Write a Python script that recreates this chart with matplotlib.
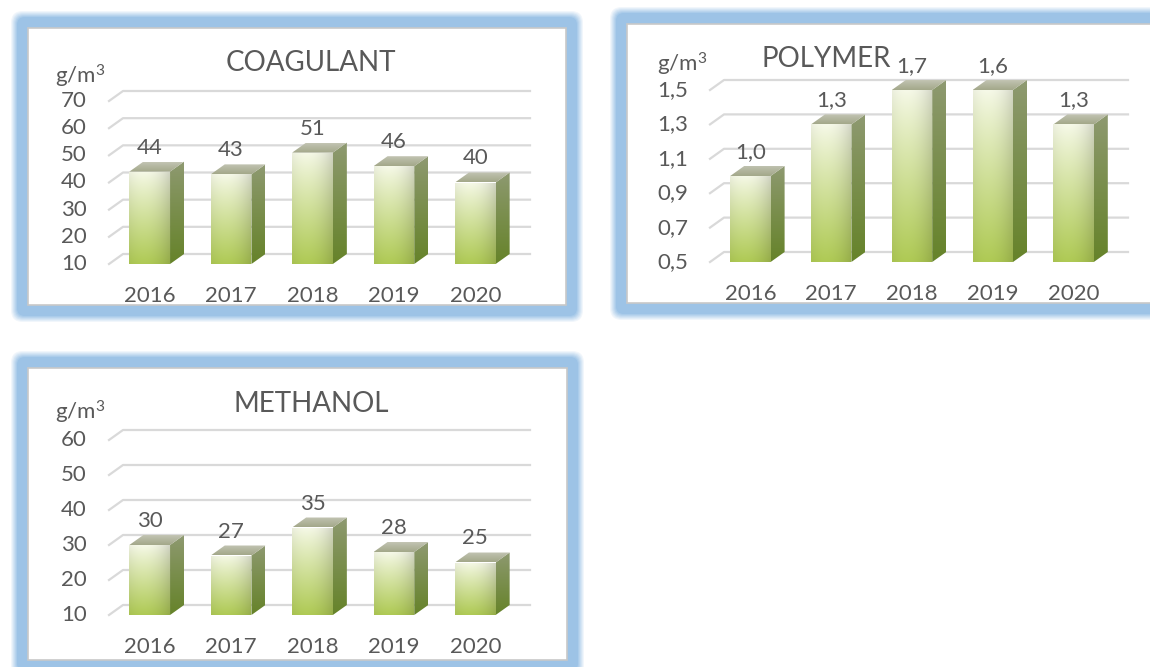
import numpy as np
import matplotlib
matplotlib.use("Agg")
import matplotlib.pyplot as plt
from matplotlib.colors import to_rgb
from matplotlib.patches import Polygon, FancyBboxPatch, Rectangle

plt.rcParams["font.family"] = ["Lato", "DejaVu Sans"]
plt.rcParams["mathtext.fontset"] = "custom"
plt.rcParams["mathtext.rm"] = "Lato"
plt.rcParams["mathtext.default"] = "rm"

# --- data -----------------------------------------------------------------
years = ["2016", "2017", "2018", "2019", "2020"]

coagulant = [44, 43, 51, 46, 40]
coagulant_ticks = [10, 20, 30, 40, 50, 60, 70]

polymer = [1.0, 1.3, 1.7, 1.6, 1.3]
polymer_ticks = [0.5, 0.7, 0.9, 1.1, 1.3, 1.5]

methanol = [30, 27, 35, 28, 25]
methanol_ticks = [10, 20, 30, 40, 50, 60]

# --- style ----------------------------------------------------------------
W, H = 1150, 667
TEXT = "#595959"
GRID = "#d9d9d9"
BLUE = "#9dc3e6"
DEPTH_X, DEPTH_Y = 14, 10  # pixel offset of the back wall
BAR_W = 0.5
FS = 16

fig = plt.figure(figsize=(W / 100, H / 100), dpi=100)
fig.patch.set_facecolor("white")

bg = fig.add_axes([0, 0, 1, 1])
bg.set_xlim(0, W)
bg.set_ylim(H, 0)
bg.axis("off")


def mix(c1, c2, t):
    a, b = np.array(to_rgb(c1)), np.array(to_rgb(c2))
    return a + (b - a) * t


def frame(x0, y0, x1, y1):
    # soft blue glow border around a white panel
    for pad in range(18, 0, -1):
        t = min(1.0, (18 - pad) / 7)
        bg.add_patch(FancyBboxPatch((x0 - pad, y0 - pad), x1 - x0 + 2 * pad, y1 - y0 + 2 * pad,
                                    boxstyle=f"round,pad=0,rounding_size={pad * 0.7}",
                                    fc=mix("white", BLUE, t), ec="none"))
    bg.add_patch(Rectangle((x0, y0), x1 - x0, y1 - y0, fc="white", ec="#c8c8c8", lw=1.2))


frame(28, 28, 566, 305)
frame(627, 24, 1170, 303)
frame(28, 368, 567, 660)


def face_image(top, bottom, n=64, m=32, edge=0.0):
    t = np.linspace(0, 1, n)[:, None, None] ** 0.9
    img = np.array(to_rgb(top)) + (np.array(to_rgb(bottom)) - np.array(to_rgb(top))) * t
    img = np.repeat(img, m, axis=1)
    if edge:
        s = np.linspace(0, 1, m)[None, :, None]
        img = img * (1 - edge * np.abs(s - 0.35) ** 2)
    return np.clip(img, 0, 1)


FRONT = face_image("#f6f9e8", "#afca55", edge=0.35)
SIDE = face_image("#8f9a72", "#66832a")
LID = face_image("#c3c5b4", "#a3a88a")


def fill(ax, pts, img, z):
    patch = Polygon(pts, closed=True, fc="none", ec="none", transform=ax.transData)
    xs = [p[0] for p in pts]
    ys = [p[1] for p in pts]
    im = ax.imshow(img, extent=(min(xs), max(xs), min(ys), max(ys)), origin="upper",
                   aspect="auto", interpolation="bilinear", zorder=z)
    im.set_clip_path(patch)
    im.set_clip_box(fig.bbox)


def chart(box, values, ticks, vmin, vmax, fmt, title, title_xy, unit_xy):
    x0, x1, ytop, ybot = box
    ax = fig.add_axes([x0 / W, 1 - ybot / H, (x1 - x0) / W, (ybot - ytop) / H])
    ax.axis("off")
    kx = len(years) / (x1 - x0)
    ky = (vmax - vmin) / (ybot - ytop)
    ddx, ddy = DEPTH_X * kx, DEPTH_Y * ky
    left, right = -0.5, len(years) - 0.5

    for t in ticks:
        ax.plot([left, left + ddx, right + ddx], [t, t + ddy, t + ddy], color=GRID, lw=1.6,
                clip_on=False, zorder=1)
        ax.text(left - 22 * kx, t, fmt(t), ha="right", va="center", fontsize=FS, color=TEXT)

    for i, v in enumerate(values):
        top = min(v, vmax)
        xl, xr = i - BAR_W / 2, i + BAR_W / 2
        fill(ax, [(xl, vmin), (xr, vmin), (xr, top), (xl, top)], FRONT, 3)
        fill(ax, [(xr, vmin), (xr + ddx, vmin + ddy), (xr + ddx, top + ddy), (xr, top)], SIDE, 2)
        fill(ax, [(xl, top), (xr, top), (xr + ddx, top + ddy), (xl + ddx, top + ddy)], LID, 2)
        ax.text(i, top + ddy + 14 * ky, fmt(v), ha="center", va="center", fontsize=FS, color=TEXT)
        ax.text(i, vmin - 32 * ky, years[i], ha="center", va="center", fontsize=FS, color=TEXT)

    ax.set_xlim(left, right)
    ax.set_ylim(vmin, vmax)

    fig.text(title_xy[0] / W, 1 - title_xy[1] / H, title, ha="center", va="center",
             fontsize=20, color=TEXT)
    fig.text(unit_xy[0] / W, 1 - unit_xy[1] / H, "g/m$^{3}$", ha="left", va="baseline",
             fontsize=FS, color=TEXT)


def as_int(v):
    return f"{v:.0f}"


def as_comma(v):
    return f"{v:.1f}".replace(".", ",")


chart((109, 516, 101, 264), coagulant, coagulant_ticks, 10, 70, as_int,
      "COAGULANT", (311, 63), (55, 83))
chart((710, 1114, 90, 262), polymer, polymer_ticks, 0.5, 1.5, as_comma,
      "POLYMER", (826, 59), (657, 72))
chart((109, 516, 440, 615), methanol, methanol_ticks, 10, 60, as_int,
      "METHANOL", (311, 404), (55, 419))

fig.savefig("out.png", dpi=100)
